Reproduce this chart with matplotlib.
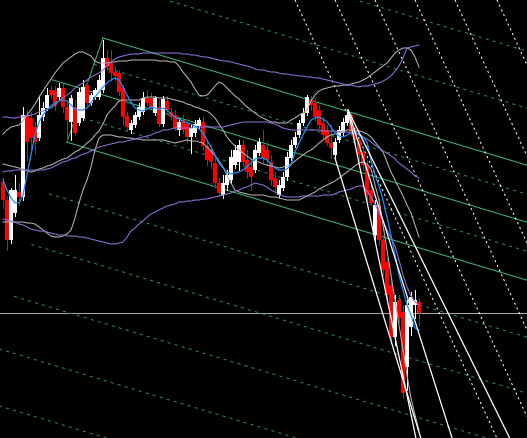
import matplotlib
matplotlib.use('Agg')
import matplotlib.pyplot as plt
import numpy as np

plt.rcParams['patch.antialiased'] = False

# candles (chart points)
opens = [256, 238, 198, 225, 246, 241, 323, 320, 311, 300, 321, 330, 348, 348, 341, 350, 331, 316, 331, 315,
         320, 353, 335, 341, 341, 348, 380, 375, 366, 365, 350, 322, 308, 313, 321, 326, 340, 340, 325, 331,
         314, 337, 326, 323, 308, 318, 314, 301, 305, 312, 316, 292, 288, 275, 255, 243, 253, 258, 273, 276,
         293, 278, 271, 268, 285, 293, 288, 276, 260, 243, 250, 261, 280, 293, 303, 315, 325, 338, 335, 328,
         315, 308, 295, 283, 298, 305, 315, 323, 308, 298, 286, 273, 248, 203, 233, 198, 176, 153, 101, 138,
         126, 71, 111, 133, 136]
highs = [260, 242, 250, 263, 255, 331, 328, 326, 316, 341, 336, 350, 352, 352, 355, 354, 335, 343, 338, 350,
         358, 358, 345, 350, 363, 398, 388, 388, 372, 368, 353, 326, 318, 326, 335, 346, 348, 345, 342, 338,
         342, 342, 330, 328, 320, 323, 320, 313, 318, 320, 321, 298, 293, 280, 260, 263, 268, 288, 293, 298,
         298, 288, 278, 293, 300, 308, 296, 283, 266, 258, 266, 286, 298, 306, 318, 330, 343, 342, 340, 333,
         320, 313, 313, 300, 312, 320, 326, 325, 313, 303, 290, 278, 253, 238, 240, 203, 180, 158, 143, 143,
         133, 138, 146, 148, 140]
lows = [230, 188, 195, 222, 233, 238, 278, 288, 285, 298, 318, 328, 340, 328, 338, 326, 298, 298, 303, 313,
        318, 333, 333, 339, 339, 346, 368, 358, 358, 343, 313, 308, 305, 311, 319, 324, 333, 330, 323, 312,
        312, 326, 318, 308, 303, 305, 296, 285, 302, 310, 288, 273, 270, 250, 242, 240, 248, 255, 270, 268,
        273, 260, 248, 266, 283, 276, 273, 253, 246, 241, 248, 258, 278, 291, 301, 313, 323, 328, 318, 310,
        300, 293, 280, 280, 296, 303, 313, 303, 293, 278, 268, 238, 233, 198, 193, 163, 138, 98, 93, 116,
        40, 48, 103, 120, 113]
closes = [238, 198, 248, 248, 241, 323, 296, 300, 296, 323, 330, 343, 343, 333, 350, 331, 318, 340, 305, 346,
          351, 335, 343, 348, 358, 380, 371, 365, 362, 346, 321, 311, 315, 323, 331, 340, 335, 331, 340, 314,
          339, 328, 321, 310, 316, 308, 301, 310, 314, 318, 292, 278, 276, 255, 245, 255, 263, 281, 288, 293,
          276, 266, 261, 288, 296, 280, 278, 258, 251, 253, 261, 281, 293, 301, 315, 325, 341, 333, 321, 313,
          303, 295, 290, 296, 308, 316, 323, 306, 298, 283, 273, 243, 235, 233, 198, 168, 143, 101, 136, 120,
          45, 133, 141, 138, 125]

# fast moving average (blue)
ma_fast = [258, 248, 240, 235, 235, 243, 263, 283, 303, 316, 323, 328, 332, 335, 337, 338, 337, 333, 329, 328,
           328, 330, 335, 341, 346, 351, 355, 358, 360, 358, 351, 343, 336, 330, 328, 327, 329, 331, 330, 329,
           330, 328, 324, 321, 319, 317, 315, 314, 312, 309, 305, 298, 291, 283, 275, 270, 266, 264, 265, 266,
           268, 271, 275, 279, 280, 280, 278, 274, 270, 268, 268, 269, 273, 286, 295, 303, 311, 318, 320, 321,
           319, 316, 311, 305, 302, 301, 303, 305, 306, 304, 301, 296, 278, 263, 252, 238, 221, 203, 183, 163,
           148, 133, 123, 110, 108]

# bollinger bands, short (silver)
bb_up = [304, 308, 311, 312, 313, 317, 323, 328, 334, 341, 347, 353, 359, 365, 370, 375, 378, 381, 384, 386,
         386, 384, 382, 377, 375, 375, 375, 376, 376, 377, 377, 377, 378, 378, 378, 378, 378, 378, 378, 377,
         377, 377, 376, 376, 372, 366, 361, 356, 349, 343, 342, 343, 347, 352, 356, 354, 350, 346, 342, 339,
         335, 331, 328, 325, 322, 320, 318, 316, 316, 315, 315, 315, 318, 320, 323, 325, 328, 337, 343, 347,
         349, 350, 351, 352, 352, 353, 353, 354, 355, 356, 358, 360, 363, 366, 369, 372, 375, 380, 385, 388,
         390, 390, 388, 381, 371]
bb_mid = [274, 273, 272, 271, 270, 269, 267, 266, 267, 269, 270, 272, 273, 275, 277, 279, 280, 283, 286, 288,
          291, 295, 298, 303, 307, 314, 323, 328, 332, 337, 338, 338, 338, 338, 338, 340, 341, 341, 341, 340,
          340, 340, 339, 338, 337, 336, 334, 333, 331, 330, 328, 327, 324, 320, 314, 308, 301, 296, 292, 288,
          285, 282, 279, 277, 276, 274, 273, 272, 271, 270, 271, 272, 274, 277, 280, 283, 286, 288, 291, 295,
          298, 301, 303, 304, 306, 307, 308, 308, 307, 307, 306, 304, 301, 296, 291, 286, 276, 266, 258, 250,
          242, 233, 225, 213, 201]
bb_low = [216, 216, 216, 216, 216, 216, 215, 215, 214, 211, 208, 205, 202, 201, 201, 202, 204, 208, 220, 235,
          248, 258, 271, 288, 300, 303, 303, 303, 302, 301, 301, 300, 300, 299, 299, 298, 298, 298, 298, 298,
          298, 297, 296, 295, 296, 297, 298, 297, 297, 296, 295, 291, 287, 282, 277, 271, 263, 255, 248, 246,
          245, 244, 243, 243, 243, 243, 242, 241, 241, 240, 239, 238, 238, 238, 238, 240, 242, 244, 246, 249,
          251, 253, 255, 257, 260, 263, 266, 269, 272, 275, 276, 274, 269, 253, 238, 213, 188, 163, 138, 113,
          88, 63, 40, 23, 8]

# bollinger bands, long (purple)
bb2_up = [321, 321, 320, 320, 321, 321, 322, 323, 324, 326, 327, 329, 330, 333, 337, 340, 343, 346, 350, 353,
          355, 358, 361, 363, 365, 368, 372, 376, 379, 381, 382, 383, 384, 384, 384, 385, 385, 385, 385, 385,
          385, 385, 385, 385, 385, 384, 384, 383, 383, 382, 381, 381, 380, 379, 378, 377, 377, 376, 375, 374,
          373, 372, 371, 369, 368, 368, 367, 366, 366, 365, 364, 364, 363, 363, 362, 362, 361, 361, 360, 360,
          359, 358, 357, 356, 355, 354, 353, 353, 352, 351, 352, 352, 353, 354, 355, 357, 359, 362, 367, 372,
          380, 390, 391, 392, 393]
bb2_mid = [266, 267, 267, 268, 268, 268, 268, 268, 268, 268, 268, 269, 270, 272, 274, 276, 277, 279, 280, 282,
           284, 285, 287, 289, 291, 292, 293, 294, 295, 296, 296, 297, 298, 299, 300, 301, 302, 303, 305, 306,
           308, 308, 309, 310, 310, 310, 310, 310, 311, 311, 311, 311, 311, 311, 311, 311, 312, 313, 314, 315,
           316, 316, 316, 316, 316, 316, 316, 315, 314, 312, 310, 309, 308, 308, 308, 308, 308, 308, 308, 308,
           307, 307, 307, 307, 306, 306, 306, 305, 304, 303, 301, 299, 296, 293, 290, 287, 285, 282, 279, 275,
           272, 269, 266, 262, 260]
bb2_low = [219, 218, 217, 216, 214, 213, 211, 209, 208, 207, 207, 206, 205, 204, 203, 203, 202, 202, 202, 201,
           201, 200, 199, 198, 197, 196, 195, 194, 194, 195, 196, 201, 207, 210, 214, 217, 221, 224, 226, 228,
           230, 232, 233, 234, 236, 236, 237, 237, 238, 238, 239, 239, 240, 241, 242, 243, 244, 245, 247, 248,
           250, 251, 253, 255, 254, 253, 251, 248, 246, 243, 242, 241, 241, 241, 241, 242, 242, 242, 242, 242,
           243, 243, 243, 244, 246, 247, 248, 249, 251, 252, 252, 247, 241, 234, 225, 217, 208, 200, 192, 178,
           163, 151, 142, 136, 133]

# parallel channel (value at bar 0, first bar drawn, solid or dashed)
chan_slope = -1.2
chan_level = [544, 487, 430, 401, 373, 344, 315, 258, 202, 145, 88, 31]
chan_start = [34, 29.5, 25, 22.75, 12.25, 18.25, 16, 11.5, 7.1, 2.75, -1, -1]
chan_solid = [False, False, True, False, True, False, True, False, False, False, False, False]
# channel base line (bar, price)
base_bar = [16, 25]
base_price = [296, 400]

# white fan lines from the top before the drop: (bar0, price0, bar1, price1)
fan_b0 = [86.25, 86.25, 86.25, 83]
fan_p0 = [328, 328, 328, 280]
fan_b1 = [101.25, 109.25, 111.75, 101]
fan_p1 = [38, 38, 121, 45]

# white dotted parallels (bar where they cross the top)
dot_slope = -8.68
dot_bar0 = [73, 83, 93, 103, 113, 123.5]

hline_price = 125
last_bar = 131

idx = np.arange(len(closes))
o = np.array(opens)
c = np.array(closes)
up = c >= o
cols = np.where(up, 'white', '#ff0000')

fig = plt.figure(figsize=(5.27, 4.38), dpi=100, facecolor='black')
ax = fig.add_axes([0, 0, 1, 1])
ax.set_facecolor('black')

ax.axhline(hline_price, color='#a8a8a8', lw=0.55, zorder=1, antialiased=False)

# channel
ax.plot(base_bar, base_price, color='#3cb371', lw=0.75, zorder=2)
for lvl, st, solid in zip(chan_level, chan_start, chan_solid):
    xs = np.array([st, last_bar])
    ys = lvl + chan_slope * xs
    if solid:
        ax.plot(xs, ys, color='#3cb371', lw=0.75, zorder=2)
    else:
        ax.plot(xs, ys, color='#2e8b57', lw=0.75, ls=(0, (3, 4)), zorder=2)

# dotted parallels
for b0 in dot_bar0:
    xs = np.array([b0, last_bar])
    ys = 438 + dot_slope * (xs - b0)
    ax.plot(xs, ys, color='white', lw=0.75, ls=(0, (2, 3)), zorder=2)

# candles
ax.vlines(idx, lows, highs, colors=cols, lw=0.7, zorder=3, antialiased=False)
ax.bar(idx, np.maximum(np.abs(c - o), 1), bottom=np.minimum(o, c), width=0.8,
       color=cols, linewidth=0, zorder=3)

# bands
for band in (bb_up, bb_mid, bb_low):
    ax.plot(idx, band, color='#b4b4b4', lw=0.75, zorder=4)
for band in (bb2_up, bb2_mid, bb2_low):
    ax.plot(idx, band, color='#9370db', lw=0.75, zorder=4)
ax.plot(idx, ma_fast, color='#1e90ff', lw=0.9, zorder=5)

# fan
for b0, p0, b1, p1 in zip(fan_b0, fan_p0, fan_b1, fan_p1):
    k = (p1 - p0) / (b1 - b0)
    xs = np.array([b0, last_bar])
    ax.plot(xs, p0 + k * (xs - b0), color='white', lw=0.9, zorder=5)

ax.set_xlim(-0.75, last_bar)
ax.set_ylim(0, 438)
ax.axis('off')
fig.savefig('out.png', dpi=100, facecolor='black')
